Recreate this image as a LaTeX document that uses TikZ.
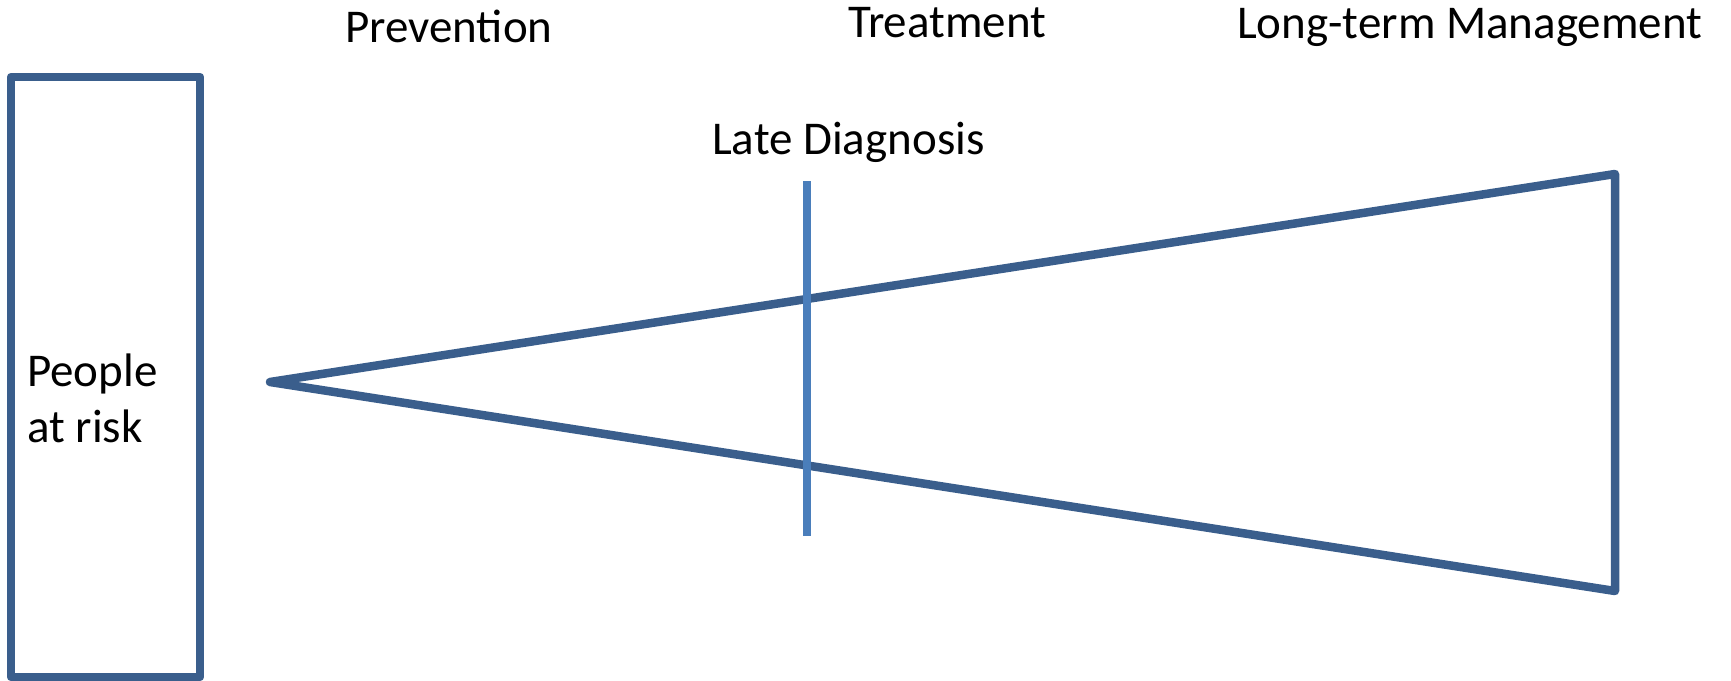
\documentclass[tikz,border=0pt]{standalone}
\usepackage{fontspec}
\setmainfont{Carlito}
\usepackage{tikz}
\definecolor{outline}{HTML}{3A5E8C}
\definecolor{marker}{HTML}{4A7EBB}
\tikzset{every node/.style={inner sep=0pt, font=\fontsize{47}{56}\selectfont}}
\tikzset{stage/.style={anchor=base west}}
\tikzset{shape line/.style={draw=outline, line width=8.5pt, line join=round}}

\begin{document}
\begin{tikzpicture}[x=1pt, y=-1pt]
  \useasboundingbox (0,0) rectangle (1731,680);

  \coordinate (boxtl) at (11,77);
  \coordinate (boxbr) at (200,677);
  \draw[shape line] (boxtl) rectangle (boxbr);
  \node (risk) [anchor=base west, align=left] at (27,442) {People\\at risk};

  \coordinate (apex) at (270,382);
  \coordinate (upper) at (1615,174);
  \coordinate (lower) at (1615,591);
  \draw[shape line] (apex) -- (upper) -- (lower) -- cycle;

  \coordinate (latetop) at (807,181);
  \coordinate (latebot) at (807,536);
  \draw[draw=marker, line width=8pt] (latetop) -- (latebot);
  \node (late) [stage] at (712,154) {Late Diagnosis};

  \node (prev) [stage] at (345,42) {Prevention};
  \node (treat) [stage] at (848,37) {Treatment};
  \node (manage) [stage] at (1237,38) {Long-term Management};
\end{tikzpicture}
\end{document}
